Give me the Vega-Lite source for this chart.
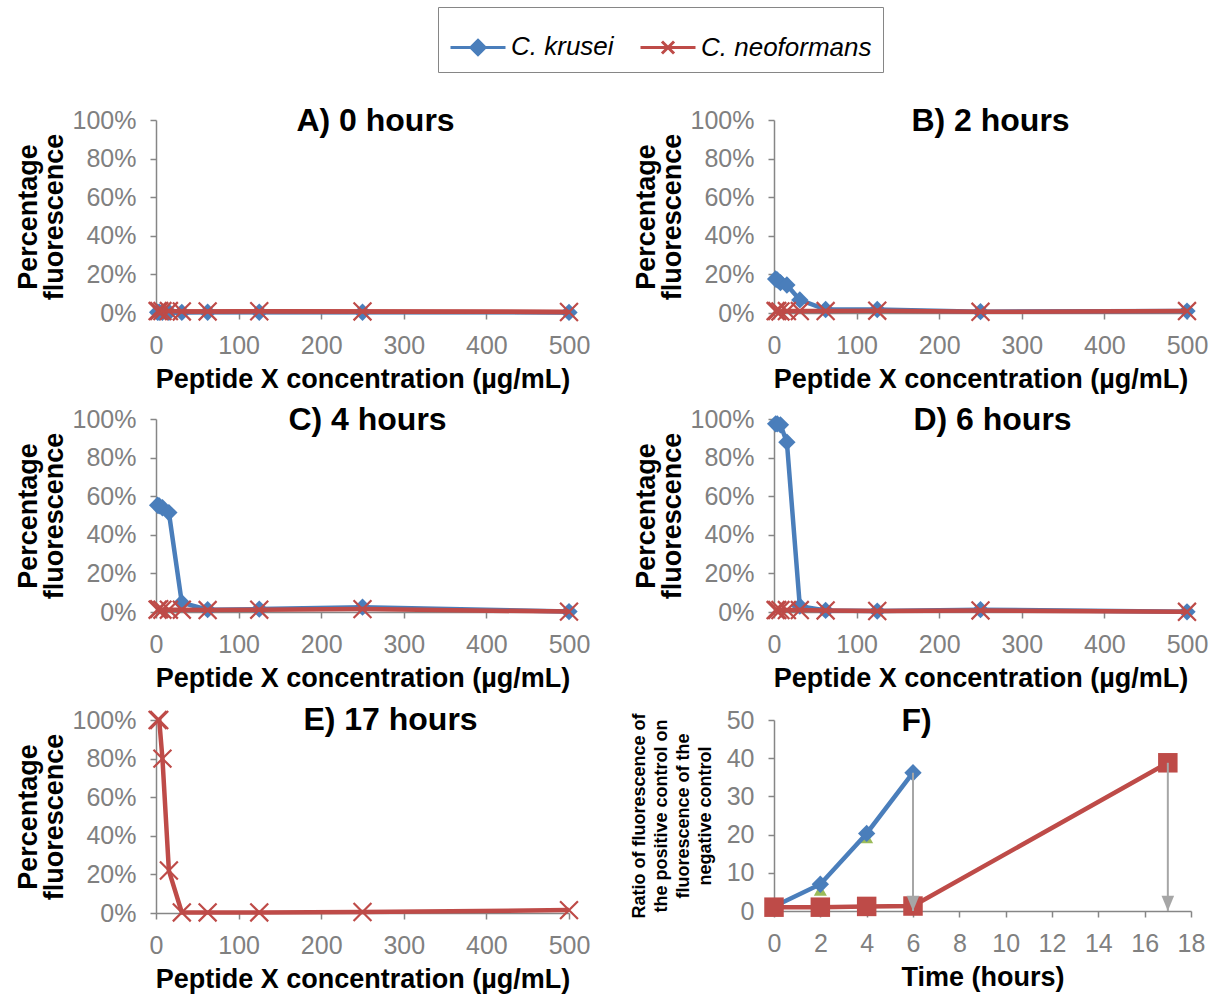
{
  "$schema": "https://vega.github.io/schema/vega-lite/v6.json",
  "padding": {"left": 14, "top": 6, "right": 5, "bottom": 5},
  "background": "white",
  "datasets": {
    "pct": [
      {"panel": "A", "series": "C. krusei", "conc": 1.95, "value": 0.004},
      {"panel": "A", "series": "C. krusei", "conc": 3.9, "value": 0.004},
      {"panel": "A", "series": "C. krusei", "conc": 7.8, "value": 0.004},
      {"panel": "A", "series": "C. krusei", "conc": 15.6, "value": 0.004},
      {"panel": "A", "series": "C. krusei", "conc": 31.25, "value": 0.003},
      {"panel": "A", "series": "C. krusei", "conc": 62.5, "value": 0.004},
      {"panel": "A", "series": "C. krusei", "conc": 125, "value": 0.004},
      {"panel": "A", "series": "C. krusei", "conc": 250, "value": 0.004},
      {"panel": "A", "series": "C. krusei", "conc": 500, "value": 0.003},
      {"panel": "A", "series": "C. neoformans", "conc": 1.95, "value": 0.01},
      {"panel": "A", "series": "C. neoformans", "conc": 3.9, "value": 0.01},
      {"panel": "A", "series": "C. neoformans", "conc": 7.8, "value": 0.01},
      {"panel": "A", "series": "C. neoformans", "conc": 15.6, "value": 0.01},
      {"panel": "A", "series": "C. neoformans", "conc": 31.25, "value": 0.008},
      {"panel": "A", "series": "C. neoformans", "conc": 62.5, "value": 0.008},
      {"panel": "A", "series": "C. neoformans", "conc": 125, "value": 0.009},
      {"panel": "A", "series": "C. neoformans", "conc": 250, "value": 0.008},
      {"panel": "A", "series": "C. neoformans", "conc": 500, "value": 0.005},
      {"panel": "B", "series": "C. krusei", "conc": 1.95, "value": 0.176},
      {"panel": "B", "series": "C. krusei", "conc": 3.9, "value": 0.172},
      {"panel": "B", "series": "C. krusei", "conc": 7.8, "value": 0.157},
      {"panel": "B", "series": "C. krusei", "conc": 15.6, "value": 0.145},
      {"panel": "B", "series": "C. krusei", "conc": 31.25, "value": 0.068},
      {"panel": "B", "series": "C. krusei", "conc": 62.5, "value": 0.018},
      {"panel": "B", "series": "C. krusei", "conc": 125, "value": 0.018},
      {"panel": "B", "series": "C. krusei", "conc": 250, "value": 0.007},
      {"panel": "B", "series": "C. krusei", "conc": 500, "value": 0.01},
      {"panel": "B", "series": "C. neoformans", "conc": 1.95, "value": 0.01},
      {"panel": "B", "series": "C. neoformans", "conc": 3.9, "value": 0.01},
      {"panel": "B", "series": "C. neoformans", "conc": 7.8, "value": 0.008},
      {"panel": "B", "series": "C. neoformans", "conc": 15.6, "value": 0.01},
      {"panel": "B", "series": "C. neoformans", "conc": 31.25, "value": 0.01},
      {"panel": "B", "series": "C. neoformans", "conc": 62.5, "value": 0.01},
      {"panel": "B", "series": "C. neoformans", "conc": 125, "value": 0.012},
      {"panel": "B", "series": "C. neoformans", "conc": 250, "value": 0.006},
      {"panel": "B", "series": "C. neoformans", "conc": 500, "value": 0.01},
      {"panel": "C", "series": "C. krusei", "conc": 1.95, "value": 0.553},
      {"panel": "C", "series": "C. krusei", "conc": 3.9, "value": 0.55},
      {"panel": "C", "series": "C. krusei", "conc": 7.8, "value": 0.54},
      {"panel": "C", "series": "C. krusei", "conc": 15.6, "value": 0.515},
      {"panel": "C", "series": "C. krusei", "conc": 31.25, "value": 0.048},
      {"panel": "C", "series": "C. krusei", "conc": 62.5, "value": 0.012},
      {"panel": "C", "series": "C. krusei", "conc": 125, "value": 0.015},
      {"panel": "C", "series": "C. krusei", "conc": 250, "value": 0.025},
      {"panel": "C", "series": "C. krusei", "conc": 500, "value": 0.002},
      {"panel": "C", "series": "C. neoformans", "conc": 1.95, "value": 0.012},
      {"panel": "C", "series": "C. neoformans", "conc": 3.9, "value": 0.015},
      {"panel": "C", "series": "C. neoformans", "conc": 7.8, "value": 0.012},
      {"panel": "C", "series": "C. neoformans", "conc": 15.6, "value": 0.012},
      {"panel": "C", "series": "C. neoformans", "conc": 31.25, "value": 0.012},
      {"panel": "C", "series": "C. neoformans", "conc": 62.5, "value": 0.01},
      {"panel": "C", "series": "C. neoformans", "conc": 125, "value": 0.012},
      {"panel": "C", "series": "C. neoformans", "conc": 250, "value": 0.015},
      {"panel": "C", "series": "C. neoformans", "conc": 500, "value": 0.002},
      {"panel": "D", "series": "C. krusei", "conc": 1.95, "value": 0.975},
      {"panel": "D", "series": "C. krusei", "conc": 3.9, "value": 0.975},
      {"panel": "D", "series": "C. krusei", "conc": 7.8, "value": 0.97},
      {"panel": "D", "series": "C. krusei", "conc": 15.6, "value": 0.88},
      {"panel": "D", "series": "C. krusei", "conc": 31.25, "value": 0.03},
      {"panel": "D", "series": "C. krusei", "conc": 62.5, "value": 0.008},
      {"panel": "D", "series": "C. krusei", "conc": 125, "value": 0.005},
      {"panel": "D", "series": "C. krusei", "conc": 250, "value": 0.012},
      {"panel": "D", "series": "C. krusei", "conc": 500, "value": 0.001},
      {"panel": "D", "series": "C. neoformans", "conc": 1.95, "value": 0.01},
      {"panel": "D", "series": "C. neoformans", "conc": 3.9, "value": 0.01},
      {"panel": "D", "series": "C. neoformans", "conc": 7.8, "value": 0.01},
      {"panel": "D", "series": "C. neoformans", "conc": 15.6, "value": 0.01},
      {"panel": "D", "series": "C. neoformans", "conc": 31.25, "value": 0.01},
      {"panel": "D", "series": "C. neoformans", "conc": 62.5, "value": 0.008},
      {"panel": "D", "series": "C. neoformans", "conc": 125, "value": 0.005},
      {"panel": "D", "series": "C. neoformans", "conc": 250, "value": 0.008},
      {"panel": "D", "series": "C. neoformans", "conc": 500, "value": 0.001},
      {"panel": "E", "series": "C. neoformans", "conc": 1.95, "value": 1.0},
      {"panel": "E", "series": "C. neoformans", "conc": 3.9, "value": 1.0},
      {"panel": "E", "series": "C. neoformans", "conc": 7.8, "value": 0.8},
      {"panel": "E", "series": "C. neoformans", "conc": 15.6, "value": 0.22},
      {"panel": "E", "series": "C. neoformans", "conc": 31.25, "value": 0.003},
      {"panel": "E", "series": "C. neoformans", "conc": 62.5, "value": 0.003},
      {"panel": "E", "series": "C. neoformans", "conc": 125, "value": 0.003},
      {"panel": "E", "series": "C. neoformans", "conc": 250, "value": 0.005},
      {"panel": "E", "series": "C. neoformans", "conc": 500, "value": 0.015}
    ],
    "ratio": [
      {"series": "C. krusei", "time": 0, "ratio": 1.2},
      {"series": "C. krusei", "time": 2, "ratio": 7},
      {"series": "C. krusei", "time": 4, "ratio": 20.3},
      {"series": "C. krusei", "time": 6, "ratio": 36.2},
      {"series": "C. neoformans", "time": 0, "ratio": 1},
      {"series": "C. neoformans", "time": 2, "ratio": 1},
      {"series": "C. neoformans", "time": 4, "ratio": 1.2},
      {"series": "C. neoformans", "time": 6, "ratio": 1.3},
      {"series": "C. neoformans", "time": 17, "ratio": 38.8},
      {"series": "other", "time": 0, "ratio": 0.5},
      {"series": "other", "time": 2, "ratio": 5.5},
      {"series": "other", "time": 4, "ratio": 19.2}
    ],
    "arrows": [
      {"time": 6, "ratio": 36.2, "base": 0},
      {"time": 17, "ratio": 38.8, "base": 0}
    ]
  },
  "columns": 2,
  "spacing": {"row": 12, "column": 40},
  "concat": [
    {
      "width": 413, "height": 193,
      "title": {"text": "A) 0 hours", "dx": 13},
      "data": {"name": "pct"},
      "transform": [{"filter": "datum.panel === 'A'"}],
      "encoding": {
        "x": {"field": "conc", "type": "quantitative", "scale": {"domain": [0, 500], "nice": false}, "axis": {"values": [0, 100, 200, 300, 400, 500], "title": "Peptide X concentration (µg/mL)"}},
        "y": {"field": "value", "type": "quantitative", "scale": {"domain": [0, 1]}, "axis": {"values": [0, 0.2, 0.4, 0.6, 0.8, 1], "format": ".0%", "title": ["Percentage", "fluorescence"]}}
      },
      "layer": [
        {"mark": {"type": "line", "strokeWidth": 4.5},
         "encoding": {"color": {"field": "series", "type": "nominal",
           "scale": {"domain": ["C. krusei", "C. neoformans"], "range": ["#4a7ebb", "#be4b48"]},
           "legend": {"title": null, "orient": "none", "legendX": 282, "legendY": -113, "direction": "horizontal",
             "labelFontSize": 26, "labelFontStyle": "italic", "labelColor": "black", "labelFont": "Liberation Sans", "labelLimit": 400,
             "fillColor": "white", "strokeColor": "#868686", "padding": 11, "columnPadding": 20, "labelOffset": 4,
             "symbolType": "M-1,0L1,0", "symbolSize": 3025, "symbolStrokeWidth": 3.5,
             "encode": {"symbols": {"update": {
               "shape": {"signal": "datum.value === 'C. krusei' ? 'M-1,0L1,0M0,-0.26L0.26,0L0,0.26L-0.26,0Z' : 'M-1,0L1,0M-0.22,-0.22L0.22,0.22M-0.22,0.22L0.22,-0.22'"},
               "fill": {"signal": "datum.value === 'C. krusei' ? '#4a7ebb' : 'transparent'"},
               "stroke": {"signal": "datum.value === 'C. krusei' ? '#4a7ebb' : '#be4b48'"},
               "strokeWidth": {"value": 3}
             }}}}}}},
        {"transform": [{"filter": "datum.series === 'C. krusei'"}], "mark": {"type": "point", "shape": "diamond", "filled": true, "color": "#4a7ebb", "size": 300, "opacity": 1}},
        {"transform": [{"filter": "datum.series === 'C. neoformans'"}], "mark": {"type": "line", "color": "#be4b48", "strokeWidth": 4.5}},
        {"transform": [{"filter": "datum.series === 'C. neoformans'"}], "mark": {"type": "point", "shape": "M-1,-1L1,1M-1,1L1,-1", "filled": false, "color": "#be4b48", "strokeWidth": 2.2, "size": 320, "opacity": 1}}
      ]
    },
    {
      "width": 413, "height": 193,
      "title": {"text": "B) 2 hours", "dx": 10},
      "data": {"name": "pct"},
      "transform": [{"filter": "datum.panel === 'B'"}],
      "encoding": {
        "x": {"field": "conc", "type": "quantitative", "scale": {"domain": [0, 500], "nice": false}, "axis": {"values": [0, 100, 200, 300, 400, 500], "title": "Peptide X concentration (µg/mL)"}},
        "y": {"field": "value", "type": "quantitative", "scale": {"domain": [0, 1]}, "axis": {"values": [0, 0.2, 0.4, 0.6, 0.8, 1], "format": ".0%", "title": ["Percentage", "fluorescence"]}}
      },
      "layer": [
        {"transform": [{"filter": "datum.series === 'C. krusei'"}], "mark": {"type": "line", "color": "#4a7ebb", "strokeWidth": 4.5}},
        {"transform": [{"filter": "datum.series === 'C. krusei'"}], "mark": {"type": "point", "shape": "diamond", "filled": true, "color": "#4a7ebb", "size": 300, "opacity": 1}},
        {"transform": [{"filter": "datum.series === 'C. neoformans'"}], "mark": {"type": "line", "color": "#be4b48", "strokeWidth": 4.5}},
        {"transform": [{"filter": "datum.series === 'C. neoformans'"}], "mark": {"type": "point", "shape": "M-1,-1L1,1M-1,1L1,-1", "filled": false, "color": "#be4b48", "strokeWidth": 2.2, "size": 320, "opacity": 1}}
      ]
    },
    {
      "width": 413, "height": 193,
      "title": {"text": "C) 4 hours", "dx": 5},
      "data": {"name": "pct"},
      "transform": [{"filter": "datum.panel === 'C'"}],
      "encoding": {
        "x": {"field": "conc", "type": "quantitative", "scale": {"domain": [0, 500], "nice": false}, "axis": {"values": [0, 100, 200, 300, 400, 500], "title": "Peptide X concentration (µg/mL)"}},
        "y": {"field": "value", "type": "quantitative", "scale": {"domain": [0, 1]}, "axis": {"values": [0, 0.2, 0.4, 0.6, 0.8, 1], "format": ".0%", "title": ["Percentage", "fluorescence"]}}
      },
      "layer": [
        {"transform": [{"filter": "datum.series === 'C. krusei'"}], "mark": {"type": "line", "color": "#4a7ebb", "strokeWidth": 4.5}},
        {"transform": [{"filter": "datum.series === 'C. krusei'"}], "mark": {"type": "point", "shape": "diamond", "filled": true, "color": "#4a7ebb", "size": 300, "opacity": 1}},
        {"transform": [{"filter": "datum.series === 'C. neoformans'"}], "mark": {"type": "line", "color": "#be4b48", "strokeWidth": 4.5}},
        {"transform": [{"filter": "datum.series === 'C. neoformans'"}], "mark": {"type": "point", "shape": "M-1,-1L1,1M-1,1L1,-1", "filled": false, "color": "#be4b48", "strokeWidth": 2.2, "size": 320, "opacity": 1}}
      ]
    },
    {
      "width": 413, "height": 193,
      "title": {"text": "D) 6 hours", "dx": 12},
      "data": {"name": "pct"},
      "transform": [{"filter": "datum.panel === 'D'"}],
      "encoding": {
        "x": {"field": "conc", "type": "quantitative", "scale": {"domain": [0, 500], "nice": false}, "axis": {"values": [0, 100, 200, 300, 400, 500], "title": "Peptide X concentration (µg/mL)"}},
        "y": {"field": "value", "type": "quantitative", "scale": {"domain": [0, 1]}, "axis": {"values": [0, 0.2, 0.4, 0.6, 0.8, 1], "format": ".0%", "title": ["Percentage", "fluorescence"]}}
      },
      "layer": [
        {"transform": [{"filter": "datum.series === 'C. krusei'"}], "mark": {"type": "line", "color": "#4a7ebb", "strokeWidth": 4.5}},
        {"transform": [{"filter": "datum.series === 'C. krusei'"}], "mark": {"type": "point", "shape": "diamond", "filled": true, "color": "#4a7ebb", "size": 300, "opacity": 1}},
        {"transform": [{"filter": "datum.series === 'C. neoformans'"}], "mark": {"type": "line", "color": "#be4b48", "strokeWidth": 4.5}},
        {"transform": [{"filter": "datum.series === 'C. neoformans'"}], "mark": {"type": "point", "shape": "M-1,-1L1,1M-1,1L1,-1", "filled": false, "color": "#be4b48", "strokeWidth": 2.2, "size": 320, "opacity": 1}}
      ]
    },
    {
      "width": 413, "height": 193,
      "title": {"text": "E) 17 hours", "dx": 28},
      "data": {"name": "pct"},
      "transform": [{"filter": "datum.panel === 'E'"}],
      "encoding": {
        "x": {"field": "conc", "type": "quantitative", "scale": {"domain": [0, 500], "nice": false}, "axis": {"values": [0, 100, 200, 300, 400, 500], "title": "Peptide X concentration (µg/mL)"}},
        "y": {"field": "value", "type": "quantitative", "scale": {"domain": [0, 1]}, "axis": {"values": [0, 0.2, 0.4, 0.6, 0.8, 1], "format": ".0%", "title": ["Percentage", "fluorescence"]}}
      },
      "layer": [
        {"transform": [{"filter": "datum.series === 'C. neoformans'"}], "mark": {"type": "line", "color": "#be4b48", "strokeWidth": 4.5}},
        {"transform": [{"filter": "datum.series === 'C. neoformans'"}], "mark": {"type": "point", "shape": "M-1,-1L1,1M-1,1L1,-1", "filled": false, "color": "#be4b48", "strokeWidth": 2.2, "size": 320, "opacity": 1}}
      ]
    },
    {
      "width": 417, "height": 191,
      "title": {"text": "F)", "dx": -66},
      "encoding": {
        "x": {"field": "time", "type": "quantitative", "scale": {"domain": [0, 18], "nice": false}, "axis": {"values": [0, 2, 4, 6, 8, 10, 12, 14, 16, 18], "title": "Time (hours)", "labelOverlap": false}},
        "y": {"field": "ratio", "type": "quantitative", "scale": {"domain": [0, 50], "nice": false}, "axis": {"values": [0, 10, 20, 30, 40, 50], "tickCount": 6, "format": "d", "labelOverlap": false, "title": ["Ratio  of  fluorescence of", "the positive control on", "fluorescence of the", "negative control"], "titleFontSize": 18, "titleLineHeight": 22, "titlePadding": 12}}
      },
      "layer": [
        {"data": {"name": "ratio"}, "transform": [{"filter": "datum.series === 'other'"}],
         "mark": {"type": "point", "shape": "triangle-up", "filled": true, "color": "#9bbb59", "size": 170, "opacity": 1}},
        {"data": {"name": "ratio"}, "transform": [{"filter": "datum.series === 'C. krusei'"}],
         "mark": {"type": "line", "color": "#4a7ebb", "strokeWidth": 4.5}},
        {"data": {"name": "ratio"}, "transform": [{"filter": "datum.series === 'C. krusei'"}],
         "mark": {"type": "point", "shape": "diamond", "filled": true, "color": "#4a7ebb", "size": 300, "opacity": 1}},
        {"data": {"name": "ratio"}, "transform": [{"filter": "datum.series === 'C. neoformans'"}],
         "mark": {"type": "line", "color": "#be4b48", "strokeWidth": 4.5}},
        {"data": {"name": "ratio"}, "transform": [{"filter": "datum.series === 'C. neoformans'"}],
         "mark": {"type": "point", "shape": "square", "filled": true, "color": "#be4b48", "size": 380, "opacity": 1}},
        {"data": {"name": "arrows"},
         "mark": {"type": "rule", "color": "#a6a6a6", "strokeWidth": 2},
         "encoding": {"y2": {"field": "base"}}},
        {"data": {"name": "arrows"},
         "mark": {"type": "point", "shape": "M-0.45,-1.1L0.45,-1.1L0,0Z", "filled": true, "color": "#a6a6a6", "size": 780, "opacity": 1},
         "encoding": {"y": {"field": "base", "type": "quantitative", "scale": {"domain": [0, 50], "nice": false}, "axis": {"values": [0, 10, 20, 30, 40, 50], "tickCount": 6, "format": "d", "labelOverlap": false, "title": ["Ratio  of  fluorescence of", "the positive control on", "fluorescence of the", "negative control"], "titleFontSize": 18, "titleLineHeight": 22, "titlePadding": 12}}}}
      ]
    }
  ],
  "config": {
    "font": "Liberation Sans",
    "view": {"stroke": null},
    "title": {"fontSize": 32, "fontWeight": "bold", "color": "black", "anchor": "middle", "frame": "group", "offset": -30, "baseline": "alphabetic", "font": "Liberation Sans"},
    "axis": {"grid": false, "domainColor": "#868686", "domainWidth": 1.5, "tickColor": "#868686", "tickWidth": 1.5, "tickSize": 6, "labelFlush": false,
      "labelColor": "#808080", "labelFontSize": 25, "labelFont": "Liberation Sans",
      "titleFontSize": 27, "titleFontWeight": "bold", "titleColor": "black", "titleFont": "Liberation Sans", "titleLineHeight": 26},
    "axisX": {"titlePadding": 8, "labelPadding": 14},
    "axisY": {"titlePadding": 4, "labelPadding": 14}
  }
}
